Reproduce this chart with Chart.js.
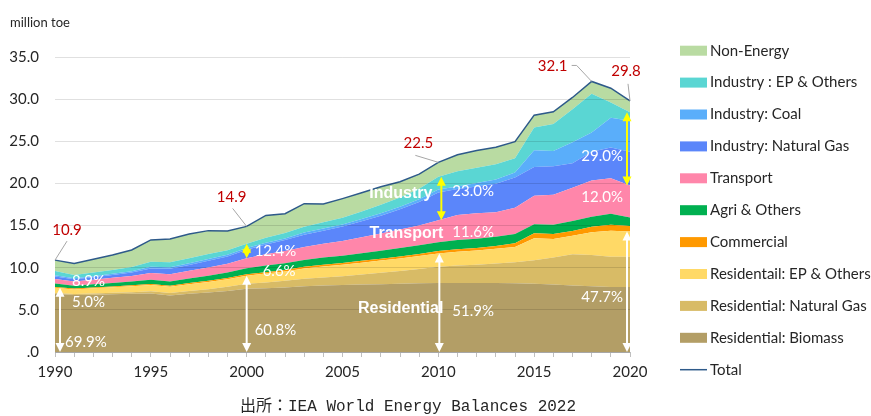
<!DOCTYPE html>
<html>
<head>
<meta charset="utf-8">
<script src="https://cdn.jsdelivr.net/npm/chart.js@4.4.0/dist/chart.umd.min.js"></script>
<style>
  html, body { margin: 0; padding: 0; background: #fff; }
</style>
</head>
<body>
<canvas id="energyChart" width="871" height="416"></canvas>
<script>
// final energy consumption, million toe
const years = ["1990","1991","1992","1993","1994","1995","1996","1997","1998","1999",
  "2000","2001","2002","2003","2004","2005","2006","2007","2008","2009",
  "2010","2011","2012","2013","2014","2015","2016","2017","2018","2019","2020"];

const resBiomass = [6.9, 6.75, 6.8, 6.85, 6.9, 6.95, 6.7, 6.9, 7.05, 7.25, 7.5, 7.55, 7.65, 7.8, 7.9, 7.95, 8.0, 8.05, 8.1, 8.15, 8.2, 8.2, 8.2, 8.2, 8.15, 8.1, 8.0, 7.9, 7.8, 7.7, 7.7];
const resGas = [0.1, 0.12, 0.15, 0.18, 0.2, 0.25, 0.3, 0.35, 0.4, 0.5, 0.6, 0.7, 0.8, 0.9, 0.95, 1.05, 1.2, 1.35, 1.5, 1.7, 1.9, 2.05, 2.15, 2.3, 2.5, 2.8, 3.2, 3.7, 3.7, 3.6, 3.6];
const resEP = [0.62, 0.55, 0.6, 0.65, 0.7, 0.75, 0.75, 0.8, 0.85, 0.88, 0.96, 1.05, 1.1, 1.2, 1.3, 1.35, 1.4, 1.45, 1.5, 1.55, 1.6, 1.65, 1.7, 1.75, 1.8, 2.6, 2.2, 2.2, 2.7, 3.1, 3.0];
const commercial = [0.1, 0.1, 0.1, 0.1, 0.12, 0.12, 0.12, 0.13, 0.14, 0.15, 0.15, 0.17, 0.18, 0.2, 0.2, 0.2, 0.22, 0.22, 0.24, 0.24, 0.27, 0.3, 0.3, 0.32, 0.45, 0.6, 0.6, 0.55, 0.65, 0.7, 0.65];
const agri = [0.4, 0.35, 0.38, 0.42, 0.45, 0.5, 0.5, 0.55, 0.6, 0.65, 0.72, 0.78, 0.8, 0.82, 0.85, 0.88, 0.9, 0.95, 1.0, 1.02, 1.05, 1.1, 1.1, 1.1, 1.1, 1.05, 1.1, 1.2, 1.2, 1.3, 1.0];
const transport = [0.55, 0.5, 0.55, 0.6, 0.65, 0.8, 0.85, 0.9, 1.0, 1.05, 1.2, 1.35, 1.45, 1.55, 1.65, 1.75, 1.9, 2.05, 2.2, 2.35, 2.61, 2.95, 3.0, 2.9, 3.1, 3.4, 3.55, 3.95, 4.3, 4.2, 3.8];
const indGas = [0.3, 0.25, 0.3, 0.35, 0.4, 0.55, 0.65, 0.7, 0.8, 0.85, 1.0, 1.15, 1.3, 1.45, 1.55, 1.7, 1.9, 2.1, 2.4, 2.8, 3.3, 3.1, 3.2, 3.4, 3.6, 3.4, 3.4, 2.9, 3.4, 3.65, 4.0];
const indCoal = [0.15, 0.12, 0.12, 0.13, 0.15, 0.18, 0.18, 0.2, 0.2, 0.2, 0.2, 0.2, 0.2, 0.25, 0.25, 0.25, 0.25, 0.3, 0.3, 0.3, 0.35, 0.3, 0.4, 0.5, 0.6, 2.0, 1.8, 2.5, 2.3, 3.55, 3.7];
const indEP = [0.5, 0.4, 0.42, 0.45, 0.5, 0.6, 0.6, 0.6, 0.6, 0.55, 0.5, 0.6, 0.65, 0.7, 0.75, 0.8, 0.9, 1.0, 1.1, 1.25, 1.5, 1.8, 1.8, 1.8, 1.7, 2.7, 3.2, 3.9, 4.6, 1.8, 1.0];
const nonEnergy = [1.28, 1.36, 1.58, 1.77, 2.03, 2.6, 2.75, 2.87, 2.76, 2.27, 2.07, 2.65, 2.27, 2.73, 2.15, 2.27, 2.23, 2.13, 1.86, 1.74, 1.72, 1.95, 2.05, 2.03, 1.95, 1.45, 1.45, 1.4, 1.45, 1.7, 1.35];
const total = [10.9, 10.5, 11.0, 11.5, 12.1, 13.3, 13.4, 14.0, 14.4, 14.35, 14.9, 16.2, 16.4, 17.6, 17.55, 18.2, 18.9, 19.6, 20.2, 21.1, 22.5, 23.4, 23.9, 24.3, 24.95, 28.1, 28.5, 30.2, 32.1, 31.3, 29.8];

const yTicks = [0, 5, 10, 15, 20, 25, 30, 35];

const FONT = "Lato, 'Open Sans', sans-serif";

// bottom of the stack first
const layers = [
  { label: "Residential: Biomass", data: resBiomass, color: "#b39e66" },
  { label: "Residential: Natural Gas", data: resGas, color: "#d8bb66" },
  { label: "Residentail: EP & Others", data: resEP, color: "#ffd966" },
  { label: "Commercial", data: commercial, color: "#ff9900" },
  { label: "Agri & Others", data: agri, color: "#00b050" },
  { label: "Transport", data: transport, color: "#ff86aa" },
  { label: "Industry: Natural Gas", data: indGas, color: "#5b86fa" },
  { label: "Industry: Coal", data: indCoal, color: "#5aaefa" },
  { label: "Industry : EP & Others", data: indEP, color: "#5ad6d3" },
  { label: "Non-Energy", data: nonEnergy, color: "#b9dba2" },
];

const datasets = layers.map((l, i) => ({
  label: l.label,
  data: l.data,
  backgroundColor: l.color,
  borderColor: l.color,
  borderWidth: 0,
  pointRadius: 0,
  fill: i === 0 ? "origin" : "-1",
  stack: "energy",
}));
datasets.push({
  label: "Total",
  data: total,
  borderColor: "#2e5a8a",
  backgroundColor: "#2e5a8a",
  borderWidth: 1.5,
  pointRadius: 0,
  fill: false,
  stack: "total",
  order: -1,
});

function sumAt(arrs, i) {
  return arrs.reduce((s, a) => s + a[i], 0);
}

function arrow(ctx, px, yBottom, yTop, color) {
  const h = 9, w = 4.5;
  ctx.save();
  ctx.strokeStyle = color;
  ctx.fillStyle = color;
  ctx.lineWidth = 2;
  ctx.beginPath();
  ctx.moveTo(px, yBottom - h + 1);
  ctx.lineTo(px, yTop + h - 1);
  ctx.stroke();
  ctx.beginPath();
  ctx.moveTo(px, yBottom);
  ctx.lineTo(px - w, yBottom - h);
  ctx.lineTo(px + w, yBottom - h);
  ctx.closePath();
  ctx.fill();
  ctx.beginPath();
  ctx.moveTo(px, yTop);
  ctx.lineTo(px - w, yTop + h);
  ctx.lineTo(px + w, yTop + h);
  ctx.closePath();
  ctx.fill();
  ctx.restore();
}

const overlay = {
  id: "overlay",
  afterDraw(chart) {
    const { ctx, scales: { x, y } } = chart;
    const residential = [resBiomass, resGas, resEP];
    const belowIndustry = [resBiomass, resGas, resEP, commercial, agri, transport];
    const industry = [indGas, indCoal, indEP];

    // arrows
    const arrowCols = [
      { i: 0, dx: 5, yellow: false },
      { i: 10, dx: 0, yellow: true },
      { i: 20, dx: 1, yellow: true },
      { i: 30, dx: -3, yellow: true },
    ];
    arrowCols.forEach(a => {
      const px = x.getPixelForValue(a.i) + a.dx;
      arrow(ctx, px, y.getPixelForValue(0), y.getPixelForValue(sumAt(residential, a.i)), "#ffffff");
      if (a.yellow) {
        const lo = sumAt(belowIndustry, a.i);
        const hi = lo + sumAt(industry, a.i);
        arrow(ctx, px + (a.i === 20 ? 2 : 0), y.getPixelForValue(lo), y.getPixelForValue(hi), "#ffff00");
      }
    });

    // share labels
    ctx.save();
    ctx.fillStyle = "#ffffff";
    ctx.font = "15px " + FONT;
    ctx.textBaseline = "middle";
    const shares = [
      ["69.9%", 0, 10, 1.2, "left"], ["5.0%", 0, 17, 5.9, "left"], ["8.9%", 0, 17, 8.4, "left"],
      ["60.8%", 10, 8, 2.6, "left"], ["6.6%", 10, 16, 9.6, "left"], ["12.4%", 10, 8, 12.0, "left"],
      ["51.9%", 20, 14, 4.9, "left"], ["11.6%", 20, 14, 14.2, "left"], ["23.0%", 20, 14, 19.1, "left"],
      ["47.7%", 30, -7, 6.5, "right"], ["12.0%", 30, -7, 18.4, "right"], ["29.0%", 30, -7, 23.25, "right"],
    ];
    shares.forEach(([t, i, dx, v, al]) => {
      ctx.textAlign = al;
      ctx.fillText(t, x.getPixelForValue(i) + dx, y.getPixelForValue(v));
    });

    // sector names
    ctx.font = "bold 16px 'Liberation Sans', Arial, sans-serif";
    ctx.textAlign = "right";
    ctx.fillText("Industry", x.getPixelForValue(20) - 6, y.getPixelForValue(18.75));
    ctx.fillText("Transport", x.getPixelForValue(20) + 5, y.getPixelForValue(14.1));
    ctx.fillText("Residential", x.getPixelForValue(20) + 5, y.getPixelForValue(5.1));

    // total callouts
    ctx.font = "15px " + FONT;
    ctx.textAlign = "center";
    const callouts = [
      { i: 0, dx: 12, dy: -30, path: [[12, -19]] },
      { i: 10, dx: -15, dy: -29, path: [[-14, -18]] },
      { i: 20, dx: -20, dy: -19, path: [[-23, -7]] },
      { i: 28, dx: -39, dy: -15, path: [[-20, -16], [-15, -16]] },
      { i: 30, dx: -4, dy: -30, path: [[-2, -17]] },
    ];
    callouts.forEach(c => {
      const px = x.getPixelForValue(c.i);
      const py = y.getPixelForValue(total[c.i]);
      ctx.strokeStyle = "#a6a6a6";
      ctx.lineWidth = 1;
      ctx.beginPath();
      ctx.moveTo(px + c.path[0][0], py + c.path[0][1]);
      for (let k = 1; k < c.path.length; k++) ctx.lineTo(px + c.path[k][0], py + c.path[k][1]);
      ctx.lineTo(px, py);
      ctx.stroke();
      ctx.fillStyle = "#c00000";
      ctx.fillText(total[c.i].toFixed(1), px + c.dx, py + c.dy);
    });

    // unit
    ctx.fillStyle = "#262626";
    ctx.font = "13px " + FONT;
    ctx.textAlign = "left";
    ctx.fillText("million toe", 10, 23);

    // legend
    const items = chart.data.datasets.slice(0, layers.length).map((d, i) => i).reverse();
    items.push(layers.length);
    ctx.font = "15px " + FONT;
    items.forEach((di, k) => {
      const d = chart.data.datasets[di];
      const ly = 50.7 + k * 31.9;
      if (d.label === "Total") {
        ctx.strokeStyle = d.borderColor;
        ctx.lineWidth = 1.5;
        ctx.beginPath();
        ctx.moveTo(680, ly);
        ctx.lineTo(707, ly);
        ctx.stroke();
      } else {
        ctx.fillStyle = d.backgroundColor;
        ctx.fillRect(680, ly - 5, 27, 10);
      }
      ctx.fillStyle = "#262626";
      ctx.fillText(d.label, 710, ly);
    });

    // source
    ctx.font = "16px 'Liberation Mono', 'Noto Sans CJK JP', monospace";
    ctx.fillText("出所：IEA World Energy Balances 2022", 240, 407);
    ctx.restore();
  },
};

const ctx = document.getElementById("energyChart");
const energyChart = new Chart(ctx, {
  type: "line",
  data: { labels: years, datasets: datasets },
  options: {
    responsive: false,
    animation: false,
    layout: { padding: { top: 57, right: 241, bottom: 0, left: 0 } },
    plugins: {
      legend: { display: false },
      tooltip: { enabled: false },
    },
    elements: { line: { tension: 0 } },
    scales: {
      x: {
        grid: { display: true, drawOnChartArea: false, drawTicks: true, tickLength: 5, color: "#bfbfbf" },
        border: { display: true, color: "#bfbfbf" },
        ticks: {
          autoSkip: false,
          maxRotation: 0,
          padding: 6,
          color: "#262626",
          font: { family: FONT, size: 15 },
          callback: (v, i) => (Number(years[i]) % 5 === 0 ? years[i] : ""),
        },
        afterFit: s => { s.height = 64; },
      },
      y: {
        stacked: true,
        min: 0,
        max: 35,
        afterBuildTicks: s => { s.ticks = yTicks.map(v => ({ value: v })); },
        ticks: {
          padding: 16,
          color: "#262626",
          font: { family: FONT, size: 15 },
          callback: v => (v === 0 ? ".0" : v.toFixed(1)),
        },
        grid: { color: "rgba(0,0,0,0.12)", drawTicks: false, z: 1 },
        border: { display: false },
        afterFit: s => { s.width = 55; },
      },
    },
  },
  plugins: [overlay],
});
</script>
</body>
</html>
